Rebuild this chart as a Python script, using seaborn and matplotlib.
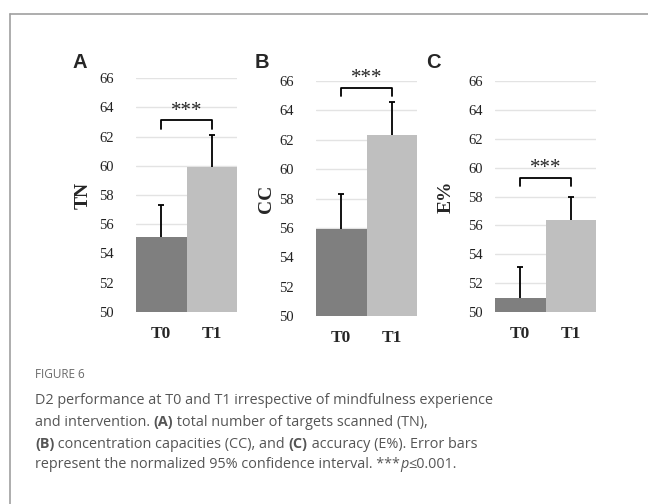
import matplotlib
matplotlib.use("Agg")
import matplotlib.pyplot as plt
import seaborn as sns
import pandas as pd

# data
times = ["T0", "T1"]
tn_mean = [55.1, 59.9]
tn_err = [2.25, 2.2]
cc_mean = [55.95, 62.3]
cc_err = [2.35, 2.3]
ep_mean = [50.95, 56.35]
ep_err = [2.2, 1.6]
ylabels = ["TN", "CC", "E%"]
letters = ["A", "B", "C"]
sig_y = [62.5, 64.95, 58.7]
sig_text = "***"
tick_vals = list(range(50, 67, 2))

bar_colors = ["#7f7f7f", "#bfbfbf"]
caption_gray = "#555555"

sns.set_style("white")
plt.rcParams["font.family"] = ["Liberation Serif", "DejaVu Serif"]

fig = plt.figure(figsize=(6.48, 5.04), dpi=100)

# axes boxes in pixels (left, top, right, bottom) from the reference
boxes = [(136, 78, 237, 312), (316, 81, 417, 316), (495, 81, 596, 312)]
pads = [16, 16, 9]
label_x = [-0.436, -0.406, -0.396]
letter_pos = [(80, 62), (262, 62), (433, 62)]

W, H = 648, 504
panels = [(tn_mean, tn_err), (cc_mean, cc_err), (ep_mean, ep_err)]

for i, (means, errs) in enumerate(panels):
    l, t, r, b = boxes[i]
    ax = fig.add_axes([l / W, 1 - b / H, (r - l) / W, (b - t) / H])
    df = pd.DataFrame({"time": times, "value": means})
    sns.barplot(data=df, x="time", y="value", hue="time", palette=bar_colors,
                width=1.0, errorbar=None, legend=False, saturation=1,
                linewidth=0, ax=ax, zorder=2)
    eb = ax.errorbar(x=[0, 1], y=means, yerr=[[0, 0], errs], fmt="none",
                     ecolor="black", elinewidth=1.3, capsize=2.2, capthick=1.3,
                     zorder=3)
    eb[1][0].set_visible(False)

    ax.set_ylim(50, 66)
    ax.set_xlim(-0.5, 1.5)
    ax.set_yticks(tick_vals)
    ax.yaxis.grid(True, color="#e3e3e3", linewidth=1.0, zorder=0)
    ax.set_axisbelow(True)
    for s in ax.spines.values():
        s.set_visible(False)
    ax.tick_params(axis="y", length=0, pad=pads[i], labelsize=10.5, labelcolor="#222222")
    ax.tick_params(axis="x", length=0, pad=10, labelsize=12.5)
    for lab in ax.get_xticklabels():
        lab.set_fontweight("bold")
    ax.set_xlabel("")
    ax.set_ylabel(ylabels[i], fontsize=14, fontweight="bold")
    ax.yaxis.set_label_coords(label_x[i], 0.5)

    # significance bracket
    y0 = sig_y[i]
    y1 = y0 + 0.6
    ax.plot([0, 0, 1, 1], [y0, y1, y1, y0], color="black", linewidth=1.3,
            clip_on=False, zorder=4)
    ax.text(0.5, y1 - 0.05, sig_text, ha="center", va="bottom", fontsize=15,
            clip_on=False)

    lx, ly = letter_pos[i]
    fig.text(lx / W, 1 - ly / H, letters[i], ha="center", va="center",
             fontsize=14.5, fontweight="bold", family=["Liberation Sans"])

# card frame (top and left edges)
fig.add_artist(plt.Line2D([9.5 / W, 1], [1 - 13.5 / H, 1 - 13.5 / H],
                          color="#a0a0a0", linewidth=1.2))
fig.add_artist(plt.Line2D([9.5 / W, 9.5 / W], [0, 1 - 13.5 / H],
                          color="#a0a0a0", linewidth=1.2))

# caption
cap_font = ["Open Sans", "DejaVu Sans"]
fig.text(35 / W, 1 - 375 / H, "FIGURE 6", fontsize=8.5, color="#6a6a6a",
         family=cap_font, va="center", ha="left")

caption_lines = [
    [("D2 performance at T0 and T1 irrespective of mindfulness experience", "normal", "normal")],
    [("and intervention. ", "normal", "normal"), ("(A)", "bold", "normal"),
     (" total number of targets scanned (TN),", "normal", "normal")],
    [("(B)", "bold", "normal"), (" concentration capacities (CC), and ", "normal", "normal"),
     ("(C)", "bold", "normal"), (" accuracy (E%). Error bars", "normal", "normal")],
    [("represent the normalized 95% confidence interval. ***", "normal", "normal"),
     ("p", "normal", "italic"), ("\u22640.001.", "normal", "normal")],
]
line_y = [400, 422, 444, 465]

renderer = fig.canvas.get_renderer()
for parts, ypix in zip(caption_lines, line_y):
    x = 35
    for txt, weight, style in parts:
        t = fig.text(x / W, 1 - ypix / H, txt, fontsize=10.4, color=caption_gray,
                     family=cap_font, fontweight=weight, fontstyle=style,
                     va="center", ha="left")
        bb = t.get_window_extent(renderer=renderer)
        x += bb.width

fig.savefig("out.png", dpi=100)
